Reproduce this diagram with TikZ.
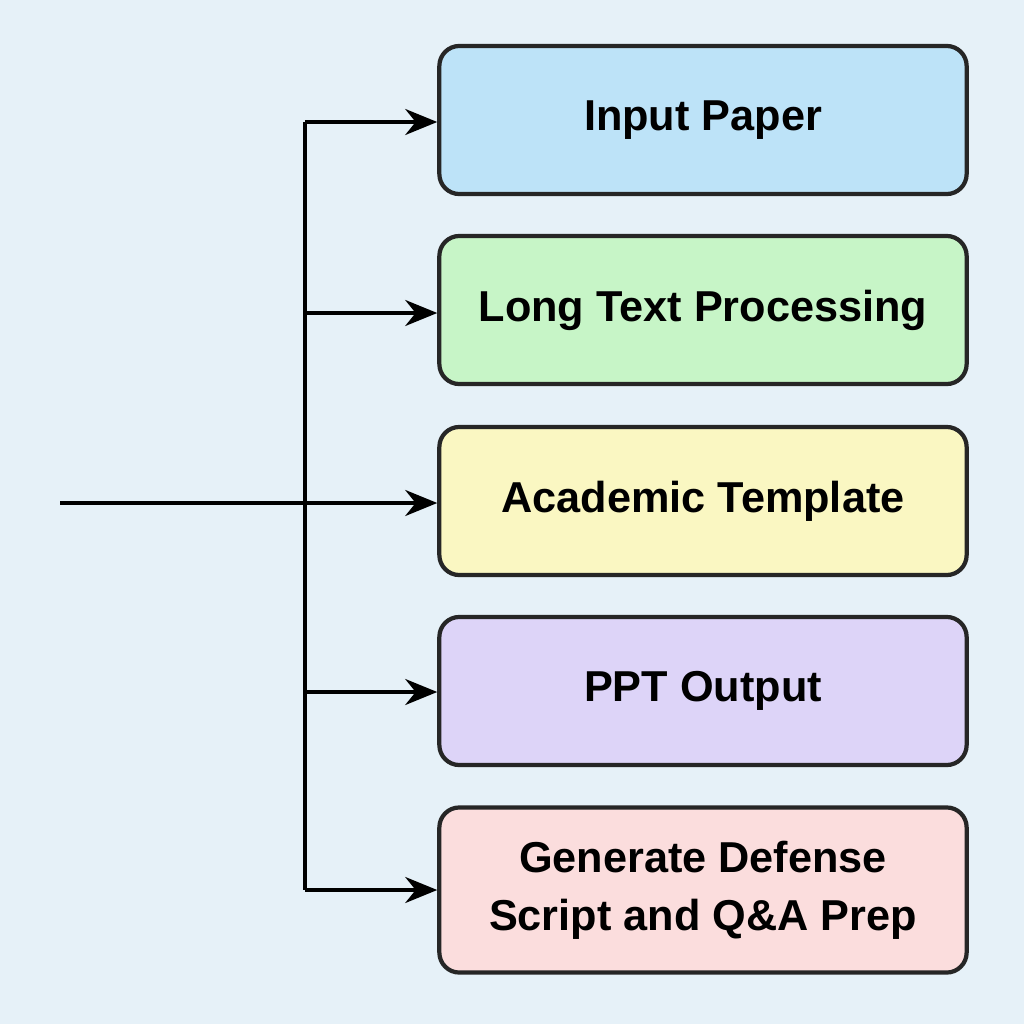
\documentclass[tikz,border=0pt]{standalone}
\usepackage{fontspec}
\setmainfont{Liberation Sans}
\usetikzlibrary{arrows.meta}
\definecolor{bg}{HTML}{E6F1F8}
\definecolor{c1}{HTML}{BDE3F8}
\definecolor{c2}{HTML}{C7F5C7}
\definecolor{c3}{HTML}{FAF7C2}
\definecolor{c4}{HTML}{DDD4F8}
\definecolor{c5}{HTML}{FBDDDD}
\begin{document}
\begin{tikzpicture}[x=0.01cm,y=-0.01cm,
  box/.style={draw=black!85,line width=1.2pt,rounded corners=0.2cm,minimum width=5.27cm,align=center,font=\fontsize{12.3pt}{16.5pt}\selectfont\bfseries},
  arr/.style={-{Stealth[length=0.32cm,width=0.26cm]},line width=1pt},
  ln/.style={line width=1pt}]
\fill[bg] (0,0) rectangle (1024,1024);
\useasboundingbox (0,0) rectangle (1024,1024);
\node[box,fill=c1,minimum height=1.48cm] (n1) at (703,120) {Input Paper};
\node[box,fill=c2,minimum height=1.48cm] (n2) at (703,310) {Long Text Processing};
\node[box,fill=c3,minimum height=1.48cm] (n3) at (703,501) {Academic Template};
\node[box,fill=c4,minimum height=1.48cm] (n4) at (703,691) {PPT Output};
\node[box,fill=c5,minimum height=1.65cm] (n5) at (703,890) {Generate Defense\\Script and Q\&A Prep};
\coordinate (s) at (60,503);
\coordinate (top) at (305,122);
\coordinate (bot) at (305,890);
\draw[ln] (top) -- (bot);
\draw[arr] (top) -- (n1.west |- top);
\draw[arr] (305,313) -- (n2.west |- 0,313);
\draw[arr] (s) -- (n3.west |- s);
\draw[arr] (305,692) -- (n4.west |- 0,692);
\draw[arr] (bot) -- (n5.west);
\end{tikzpicture}
\end{document}
